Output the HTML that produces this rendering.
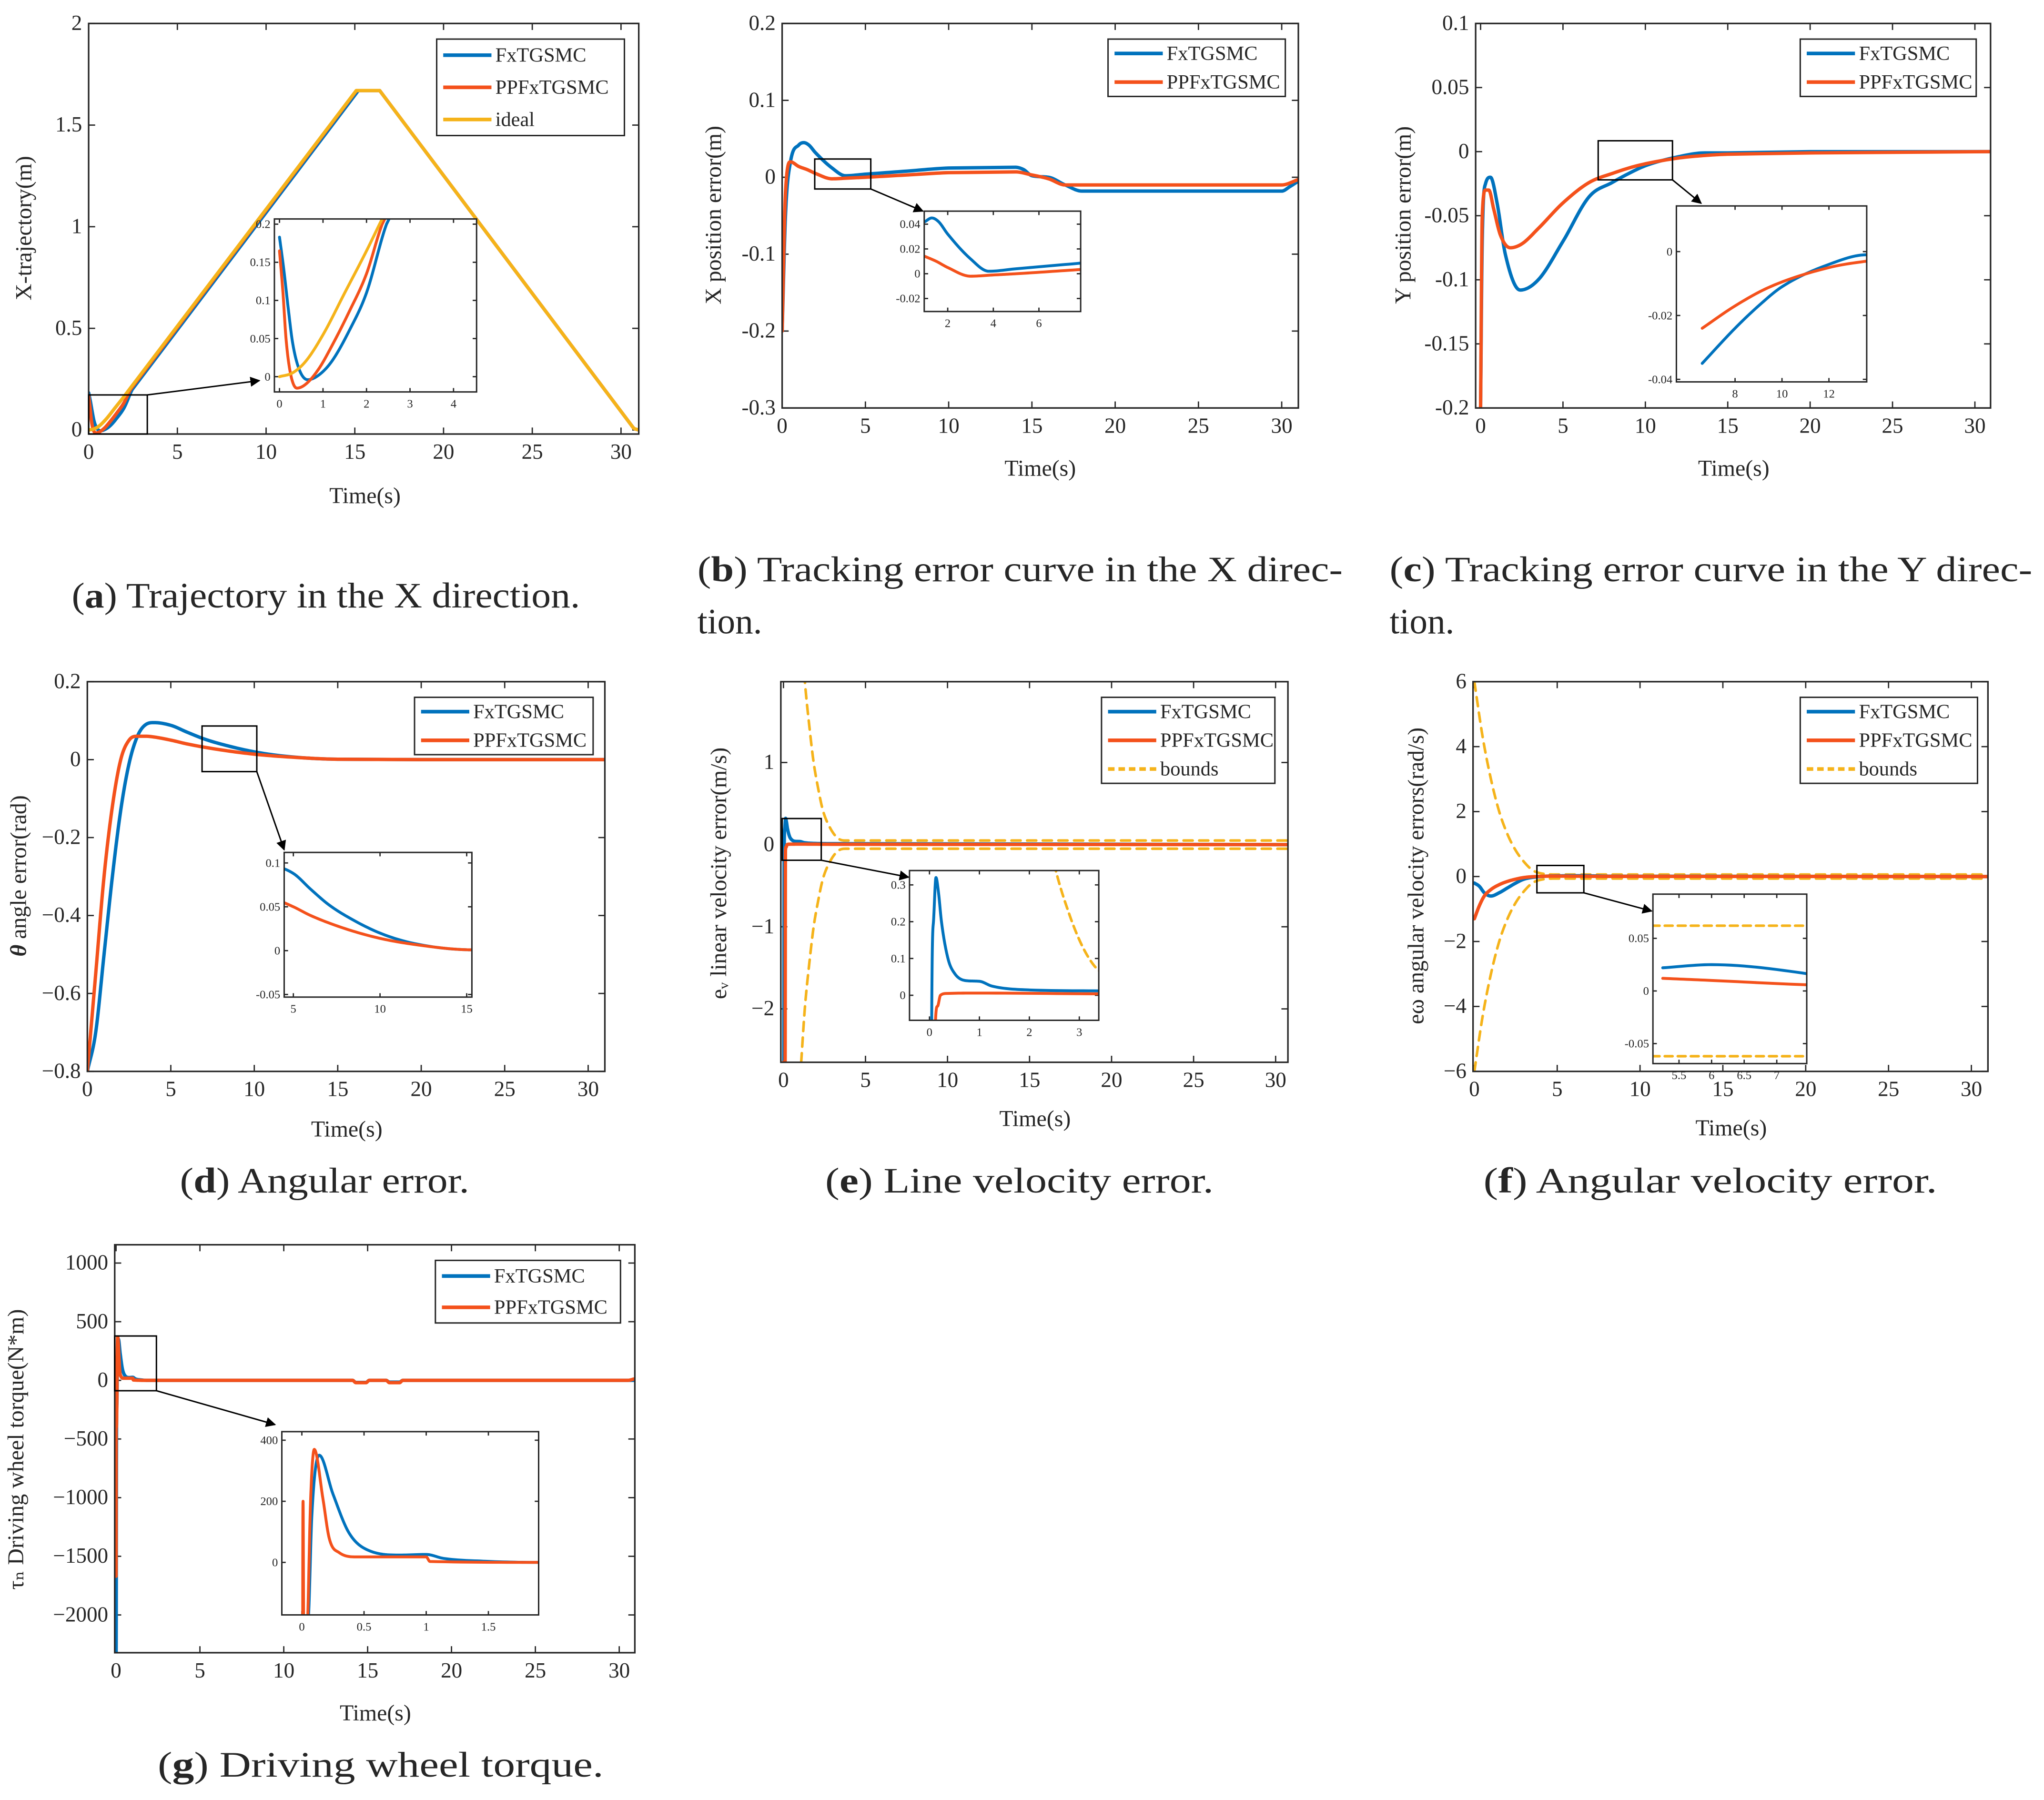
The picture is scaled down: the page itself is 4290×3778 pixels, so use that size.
<!DOCTYPE html>
<html><head><meta charset="utf-8"><title>Control results figure</title>
<style>
html,body{margin:0;padding:0;background:#fff;width:4290px;height:3778px;overflow:hidden;}
svg{display:block;}
text{font-family:"Liberation Serif","DejaVu Serif",serif;fill:#262626;}
</style></head>
<body>
<svg id="fig" xmlns="http://www.w3.org/2000/svg" width="4290" height="3778" viewBox="0 0 1568 1381" preserveAspectRatio="none">
<rect x="0" y="0" width="1568" height="1381" fill="#fff"/>
<defs>
<marker id="ah" viewBox="0 0 10 10" refX="9" refY="5" markerWidth="7" markerHeight="7" orient="auto"><path d="M0,0 L10,5 L0,10 z" fill="#000"/></marker>
</defs>
</svg>
<script>
// ---------- data ----------
// (a) trajectory
const aFxT=[0,0.1,0.2,0.3,0.45,0.65,0.9,1.2,1.6,2,2.46,15.2,16.4,30.7,31];
const aFxV=[0.183,0.14,0.09,0.045,0.01,-0.004,0.002,0.02,0.06,0.11,0.2,1.67,1.67,0.01,0];
const aPpT=[0,0.08,0.15,0.25,0.4,0.6,0.9,1.2,1.6,2,2.36,15.1,16.4,30.7,31];
const aPpV=[0.165,0.11,0.05,0.005,-0.015,-0.01,0.01,0.04,0.085,0.135,0.2,1.67,1.67,0.01,0];
const aIdT=[0,0.3,0.6,1,1.5,2,2.3,15.08,16.4,30.7,31];
const aIdV=[0,0.005,0.02,0.055,0.11,0.165,0.2,1.67,1.67,0.01,0];
// (b) X error
const bFxT=[0,0.2,0.5,1,1.3,1.6,2,3,3.8,5,7.5,10,14,14.5,15,16,17,18,30,30.5,31];
const bFxV=[-0.2,-0.05,0.02,0.042,0.045,0.042,0.032,0.012,0.002,0.004,0.008,0.012,0.013,0.01,0.002,0,-0.01,-0.018,-0.018,-0.012,-0.005];
const bPpT=[0,0.2,0.5,1,1.5,2,3,4,5,7.5,10,14,15,16,17,30,31];
const bPpV=[-0.2,-0.02,0.02,0.014,0.01,0.005,-0.002,-0.001,0,0.003,0.006,0.007,0.003,-0.002,-0.01,-0.01,-0.003];
// (c) Y error
const cFxT=[0,0.1,0.3,0.6,1,1.5,2.4,3.5,5,6.6,8,9,10,12,13.6,15,20,31];
const cFxV=[-0.2,-0.07,-0.025,-0.02,-0.04,-0.08,-0.108,-0.1,-0.07,-0.035,-0.024,-0.017,-0.011,-0.004,-0.001,-0.001,0,0];
const cPpT=[0,0.1,0.3,0.5,0.8,1.2,1.8,2.5,3.5,5,6.6,8,9.5,12,13.6,15,20,31];
const cPpV=[-0.2,-0.05,-0.03,-0.03,-0.045,-0.065,-0.075,-0.072,-0.06,-0.04,-0.024,-0.017,-0.011,-0.005,-0.003,-0.002,-0.001,0];
// (d) angle error
const dFxT=[0,0.5,1,1.5,2,2.5,3,3.5,4,5,6,7,8,10,12,15,20,31];
const dFxV=[-0.8,-0.7,-0.5,-0.3,-0.13,-0.01,0.06,0.09,0.095,0.088,0.07,0.053,0.04,0.02,0.008,0.001,0,0];
const dPpT=[0,0.5,1,1.5,2,2.5,3,3.5,4,5,6,8,10,12,15,20,31];
const dPpV=[-0.8,-0.55,-0.3,-0.12,0,0.05,0.06,0.06,0.058,0.05,0.04,0.025,0.014,0.007,0.001,0,0];
// (e) linear velocity error
const eFxT=[0,0.02,0.044,0.08,0.13,0.18,0.24,0.37,0.5,0.72,1.0,1.25,1.9,3.4,31];
const eFxV=[-2.65,-2.65,-0.07,0.2,0.32,0.28,0.2,0.1,0.06,0.04,0.038,0.025,0.015,0.012,0];
const ePpT=[0,0.1,0.12,0.16,0.22,0.35,1,3.4,31];
const ePpV=[-2.65,-2.65,-0.07,-0.03,0,0.005,0.006,0.004,0];
const eBdT=[1.08,1.3,1.6,1.84,2.1,2.4,2.8,3.3,3.8,31];
const eBdV=[2.65,2.0,1.4,1.0,0.7,0.42,0.22,0.08,0.05,0.05];
// (f) angular velocity error
const fFxT=[0,0.3,0.6,1,1.5,2,2.5,3,4,5.25,6,7.4,8,31];
const fFxV=[-0.2,-0.3,-0.5,-0.6,-0.5,-0.35,-0.2,-0.08,0.0,0.022,0.025,0.017,0.01,0];
const fPpT=[0,0.3,0.6,1,1.5,2,2.5,3,4,5.25,6,7.4,8,31];
const fPpV=[-1.3,-0.9,-0.6,-0.4,-0.25,-0.15,-0.08,-0.03,0.005,0.012,0.01,0.006,0.005,0];
const fBdT=[0,0.5,1,1.5,2,2.5,3,3.5,4,5,31];
const fBdV=[6,4.3,3.0,2.0,1.3,0.8,0.45,0.2,0.1,0.062,0.062];
// (g) torque
const gFxT=[0,0.003,0.03,0.054,0.08,0.14,0.25,0.38,0.55,0.79,1.0,1.14,1.46,1.9,14.1,14.3,14.9,15.1,16.1,16.3,16.9,17.1,30.6,30.9];
const gFxV=[-2340,-2340,-400,-172,150,351,224,96,37,24,26,13,4,0,0,-18,-18,0,0,-15,-15,0,0,0];
const gPpT=[0,0.003,0.008,0.01,0.014,0.02,0.046,0.07,0.10,0.17,0.22,0.30,0.44,1.0,1.03,1.9,14.1,14.3,14.9,15.1,16.1,16.3,16.9,17.1,30.5,30.9];
const gPpV=[-1670,-1670,150,200,-172,-400,-200,200,370,207,79,32,18,18,3,0,0,-20,-20,0,0,-20,-20,0,0,12];
// tick values / labels
const tT=[0,5,10,15,20,25,30];
const tL=['0','5','10','15','20','25','30'];
const aYT=[0,0.5,1,1.5,2]; const aYL=['0','0.5','1','1.5','2'];
const aIXT=[0,1,2,3,4]; const aIXL=['0','1','2','3','4'];
const aIYT=[0,0.05,0.1,0.15,0.2]; const aIYL=['0','0.05','0.1','0.15','0.2'];
const bYT=[-0.3,-0.2,-0.1,0,0.1,0.2]; const bYL=['-0.3','-0.2','-0.1','0','0.1','0.2'];
const bIXT=[2,4,6]; const bIXL=['2','4','6'];
const bIYT=[-0.02,0,0.02,0.04]; const bIYL=['-0.02','0','0.02','0.04'];
const cYT=[-0.2,-0.15,-0.1,-0.05,0,0.05,0.1]; const cYL=['-0.2','-0.15','-0.1','-0.05','0','0.05','0.1'];
const cIXT=[8,10,12]; const cIXL=['8','10','12'];
const cIYT=[-0.04,-0.02,0]; const cIYL=['-0.04','-0.02','0'];
const dYT=[-0.8,-0.6,-0.4,-0.2,0,0.2]; const dYL=['\u22120.8','\u22120.6','\u22120.4','\u22120.2','0','0.2'];
const dIXT=[5,10,15]; const dIXL=['5','10','15'];
const dIYT=[-0.05,0,0.05,0.1]; const dIYL=['-0.05','0','0.05','0.1'];
const eYT=[-2,-1,0,1]; const eYL=['\u22122','\u22121','0','1'];
const eIXT=[0,1,2,3]; const eIXL=['0','1','2','3'];
const eIYT=[0,0.1,0.2,0.3]; const eIYL=['0','0.1','0.2','0.3'];
const fYT=[-6,-4,-2,0,2,4,6]; const fYL=['\u22126','\u22124','\u22122','0','2','4','6'];
const fIXT=[5.5,6,6.5,7]; const fIXL=['5.5','6','6.5','7'];
const fIYT=[-0.05,0,0.05]; const fIYL=['-0.05','0','0.05'];
const gYT=[-2000,-1500,-1000,-500,0,500,1000]; const gYL=['\u22122000','\u22121500','\u22121000','\u2212500','0','500','1000'];
const gIXT=[0,0.5,1,1.5]; const gIXL=['0','0.5','1','1.5'];
const gIYT=[0,200,400]; const gIYL=['0','200','400'];

const BLUE='#0072BD', RED='#F4511B', GOLD='#F5B31A', INK='#262626';
const NS='http://www.w3.org/2000/svg';
const svg=document.getElementById('fig');
let clipN=0;
function mk(tag,parent,attrs){const e=document.createElementNS(NS,tag);for(const k in attrs)e.setAttribute(k,attrs[k]);parent.appendChild(e);return e;}
function X(p,v){return p.box[0]+(v-p.xd[0])/(p.xd[1]-p.xd[0])*(p.box[2]-p.box[0]);}
function Y(p,v){return p.box[3]-(v-p.yd[0])/(p.yd[1]-p.yd[0])*(p.box[3]-p.box[1]);}

function axes(p,g,xt,xl,yt,yl,inset){
  const [x0,y0,x1,y1]=p.box;
  const fs=inset?9:16.5, tl=inset?3:5;
  const bg=mk('rect',g,{x:x0,y:y0,width:x1-x0,height:y1-y0,fill:'#fff'});
  
  
  xt.forEach((v,i)=>{
    const x=X(p,v);
    const t1=mk('line',g,{x1:x,x2:x,y1:y1,y2:y1-tl,stroke:INK,'stroke-width':1});
    
    
    const t2=mk('line',g,{x1:x,x2:x,y1:y0,y2:y0+tl,stroke:INK,'stroke-width':1});
    
    
    const tx=mk('text',g,{x:x,y:y1+(inset?12:19),'font-size':fs,'text-anchor':'middle'});
    tx.textContent=xl[i];
    
    
  });
  yt.forEach((v,i)=>{
    const y=Y(p,v);
    const t1=mk('line',g,{x1:x0,x2:x0+tl,y1:y,y2:y,stroke:INK,'stroke-width':1});
    
    
    const t2=mk('line',g,{x1:x1,x2:x1-tl,y1:y,y2:y,stroke:INK,'stroke-width':1});
    
    
    const tx=mk('text',g,{x:x0-(inset?3:5),y:y+(inset?3:5),'font-size':fs,'text-anchor':'end'});
    tx.textContent=yl[i];
    
    
  });
  clipN++;
  const cp=mk('clipPath',svg.querySelector('defs'),{id:'cp'+clipN});
  mk('rect',cp,{x:x0,y:y0,width:x1-x0,height:y1-y0});
  const pg=mk('g',g,{'clip-path':'url(#cp'+clipN+')'});
  
  
  p.plot=pg;
  p.g=g;
}
function frame(p,inset){
  const [x0,y0,x1,y1]=p.box;
  const f=mk('rect',p.g,{x:x0,y:y0,width:x1-x0,height:y1-y0,fill:'none',stroke:INK,'stroke-width':inset?1.1:1.2});
  
  
}
// monotone cubic sampling; long segments (>3 s) are drawn straight
function smooth(T,V){
  const n=T.length; if(n<3)return T.map((t,i)=>[t,V[i]]);
  const d=[],m=new Array(n).fill(0),lin=[];
  for(let i=0;i<n-1;i++){const h=T[i+1]-T[i];d.push(h>0?(V[i+1]-V[i])/h:0);lin.push(h>3);}
  m[0]=d[0];m[n-1]=d[n-2];
  for(let i=1;i<n-1;i++){m[i]=(d[i-1]*d[i]<=0)?0:(d[i-1]+d[i])/2;}
  for(let i=0;i<n-1;i++){
    if(d[i]===0){m[i]=0;m[i+1]=0;continue;}
    const a=m[i]/d[i],b=m[i+1]/d[i],s=a*a+b*b;
    if(s>9){const tau=3/Math.sqrt(s);m[i]=tau*a*d[i];m[i+1]=tau*b*d[i];}
  }
  const out=[];
  for(let i=0;i<n-1;i++){
    const h=T[i+1]-T[i];
    if(lin[i]){out.push([T[i],V[i]]);continue;}
    const K=14;
    for(let k=0;k<K;k++){
      const s=k/K,h00=2*s*s*s-3*s*s+1,h10=s*s*s-2*s*s+s,h01=-2*s*s*s+3*s*s,h11=s*s*s-s*s;
      out.push([T[i]+s*h,h00*V[i]+h10*h*m[i]+h01*V[i+1]+h11*h*m[i+1]]);
    }
  }
  out.push([T[n-1],V[n-1]]);
  return out;
}
function series(p,T,V,color,name,opt){
  opt=opt||{};
  const tt=[],vv=[];
  for(let i=0;i<T.length;i++){
    if(opt.tmin!==undefined&&T[i]<opt.tmin)continue;
    tt.push(T[i]);vv.push(opt.neg?-V[i]:V[i]);
  }
  const pts=smooth(tt,vv).map(q=>X(p,q[0]).toFixed(2)+','+Y(p,q[1]).toFixed(2));
  const a={points:pts.join(' '),fill:'none',stroke:color,'stroke-width':opt.w||2.6,'stroke-linejoin':'round','stroke-linecap':'round'};
  if(opt.dash)a['stroke-dasharray']=opt.dash;
  const pl=mk('polyline',p.plot,a);
  
  
}
function legend(g,box,items){
  const [x0,y0,x1,y1]=box;
  const r=mk('rect',g,{x:x0,y:y0,width:x1-x0,height:y1-y0,fill:'#fff',stroke:INK,'stroke-width':1.1});
  
  
  const h=(y1-y0)/items.length;
  items.forEach((it,i)=>{
    const y=y0+h*(i+0.5);
    const a={x1:x0+5,x2:x0+42,y1:y,y2:y,stroke:it[1],'stroke-width':2.8};
    if(it[2])a['stroke-dasharray']='5,3';
    const ln=mk('line',g,a);
    
    
    const tx=mk('text',g,{x:x0+45,y:y+5,'font-size':15.5});
    tx.textContent=it[0];
    
    
  });
}
function zoomRect(g,r,to){
  const z=mk('rect',g,{x:r[0],y:r[1],width:r[2]-r[0],height:r[3]-r[1],fill:'none',stroke:'#000','stroke-width':1.1});
  
  
  const ar=mk('line',g,{x1:to[0],y1:to[1],x2:to[2],y2:to[3],stroke:'#000','stroke-width':1.1,'marker-end':'url(#ah)'});
  
  
}
function label(g,x,y,txt,rot,name){
  const t=mk('text',g,{x:x,y:y,'font-size':17.5,'text-anchor':'middle'});
  if(rot)t.setAttribute('transform','rotate(-90 '+x+' '+y+')');
  t.textContent=txt;
  
  
  return t;
}
function caption(g,x,y,letter,rest,anchor,len){
  const t=mk('text',g,{x:x,y:y,'font-size':27.5,'text-anchor':anchor});
  if(len){t.setAttribute('textLength',len);t.setAttribute('lengthAdjust','spacingAndGlyphs');}
  
  
  const s1=mk('tspan',t,{});s1.textContent='(';
  const s2=mk('tspan',t,{'font-weight':'bold'});s2.textContent=letter;
  const s3=mk('tspan',t,{});s3.textContent=')'+rest;
}
function panelG(name){const g=mk('g',svg,{});return g;}
const L2=[['FxTGSMC',BLUE],['PPFxTGSMC',RED]];
const L3b=[['FxTGSMC',BLUE],['PPFxTGSMC',RED],['bounds',GOLD,true]];

// ---------- (a) ----------
{const g=panelG('panel-a-trajectory');
 const p={box:[68,18,490,333],xd:[0,31],yd:[-0.02,2]};
 axes(p,g,tT,tL,aYT,aYL);
 series(p,aFxT,aFxV,BLUE,'line-fxtgsmc');series(p,aPpT,aPpV,RED,'line-ppfxtgsmc');series(p,aIdT,aIdV,GOLD,'line-ideal');
 frame(p);
 zoomRect(g,[68,303,113,333],[113,303,199,292]);
 const q={box:[210.5,168,365.6,300.7],xd:[-0.117,4.53],yd:[-0.02,0.2068]};
 axes(q,g,aIXT,aIXL,aIYT,aIYL,true);
 series(q,aFxT,aFxV,BLUE,'inset-fxtgsmc',{w:2.2});series(q,aPpT,aPpV,RED,'inset-ppfxtgsmc',{w:2.2});series(q,aIdT,aIdV,GOLD,'inset-ideal',{w:2.2});
 frame(q,true);
 legend(g,[335,30,479,104],[['FxTGSMC',BLUE],['PPFxTGSMC',RED],['ideal',GOLD]]);
 label(g,24,175,'X-trajectory(m)',true,'y-axis-title');label(g,280,386,'Time(s)',false,'x-axis-title');
 caption(g,55,466,'a',' Trajectory in the X direction.','start',390);}
// ---------- (b) ----------
{const g=panelG('panel-b-x-error');
 const p={box:[600,18,996,313],xd:[0,31],yd:[-0.3,0.2]};
 axes(p,g,tT,tL,bYT,bYL);
 series(p,bFxT,bFxV,BLUE,'line-fxtgsmc');series(p,bPpT,bPpV,RED,'line-ppfxtgsmc');
 frame(p);
 zoomRect(g,[625,122,668,145],[668,145,708,162]);
 const q={box:[709,162,829,239],xd:[0.97,7.83],yd:[-0.0305,0.0505]};
 axes(q,g,bIXT,bIXL,bIYT,bIYL,true);
 series(q,bFxT,bFxV,BLUE,'inset-fxtgsmc',{w:2.2,tmin:1});series(q,bPpT,bPpV,RED,'inset-ppfxtgsmc',{w:2.2,tmin:1});
 frame(q,true);
 legend(g,[850,30,986,74],L2);
 label(g,553,165,'X position error(m)',true,'y-axis-title');label(g,798,365,'Time(s)',false,'x-axis-title');
 caption(g,535,446,'b',' Tracking error curve in the X direc-','start',495);
 const t2=mk('text',g,{x:535,y:486,'font-size':27.5});t2.textContent='tion.';
 
 }
// ---------- (c) ----------
{const g=panelG('panel-c-y-error');
 const p={box:[1132,18,1527,313],xd:[-0.3,30.95],yd:[-0.2,0.1]};
 axes(p,g,tT,tL,cYT,cYL);
 series(p,cFxT,cFxV,BLUE,'line-fxtgsmc');series(p,cPpT,cPpV,RED,'line-ppfxtgsmc');
 frame(p);
 zoomRect(g,[1226,108,1283,138],[1283,138,1305,156]);
 const q={box:[1286,158,1432,293],xd:[5.5,13.61],yd:[-0.0408,0.0143]};
 axes(q,g,cIXT,cIXL,cIYT,cIYL,true);
 series(q,cFxT,cFxV,BLUE,'inset-fxtgsmc',{w:2.2,tmin:6.6});series(q,cPpT,cPpV,RED,'inset-ppfxtgsmc',{w:2.2,tmin:6.6});
 frame(q,true);
 legend(g,[1381,30,1516,74],L2);
 label(g,1082,165,'Y position error(m)',true,'y-axis-title');label(g,1330,365,'Time(s)',false,'x-axis-title');
 caption(g,1066,446,'c',' Tracking error curve in the Y direc-','start',493);
 const t2=mk('text',g,{x:1066,y:486,'font-size':27.5});t2.textContent='tion.';
 
 }
// ---------- (d) ----------
{const g=panelG('panel-d-angle-error');
 const p={box:[67,523,464,822],xd:[0,31],yd:[-0.8,0.2]};
 axes(p,g,tT,tL,dYT,dYL);
 series(p,dFxT,dFxV,BLUE,'line-fxtgsmc');series(p,dPpT,dPpV,RED,'line-ppfxtgsmc');
 frame(p);
 zoomRect(g,[155,557,197,592],[197,592,218,652]);
 const q={box:[218,654,362,765],xd:[4.47,15.3],yd:[-0.053,0.112]};
 axes(q,g,dIXT,dIXL,dIYT,dIYL,true);
 series(q,dFxT,dFxV,BLUE,'inset-fxtgsmc',{w:2.2});series(q,dPpT,dPpV,RED,'inset-ppfxtgsmc',{w:2.2});
 frame(q,true);
 legend(g,[318,535,455,579],L2);
 const yl=label(g,20,672,'',true,'y-axis-title');
 const th=mk('tspan',yl,{'font-style':'italic','font-weight':'bold'});th.textContent='\u03B8';
 const rs=mk('tspan',yl,{});rs.textContent=' angle error(rad)';
 label(g,266,872,'Time(s)',false,'x-axis-title');
 caption(g,138,915,'d',' Angular error.','start',222);}
// ---------- (e) ----------
{const g=panelG('panel-e-linear-velocity-error');
 const p={box:[599,523,988,815],xd:[-0.16,30.75],yd:[-2.65,1.984]};
 axes(p,g,tT,tL,eYT,eYL);
 series(p,eBdT,eBdV,GOLD,'bound-upper',{dash:'7,5',w:2});series(p,eBdT,eBdV,GOLD,'bound-lower',{dash:'7,5',w:2,neg:true});
 series(p,eFxT,eFxV,BLUE,'line-fxtgsmc');series(p,ePpT,ePpV,RED,'line-ppfxtgsmc');
 frame(p);
 zoomRect(g,[600,628,630,660],[630,660,697,673]);
 const q={box:[697.7,667.9,842.9,782.8],xd:[-0.4,3.39],yd:[-0.068,0.339]};
 axes(q,g,eIXT,eIXL,eIYT,eIYL,true);
 series(q,eBdT,eBdV,GOLD,'inset-bound-upper',{dash:'6,4',w:2});series(q,eBdT,eBdV,GOLD,'inset-bound-lower',{dash:'6,4',w:2,neg:true});
 series(q,eFxT,eFxV,BLUE,'inset-fxtgsmc',{w:2.2});series(q,ePpT,ePpV,RED,'inset-ppfxtgsmc',{w:2.2});
 frame(q,true);
 legend(g,[845,535,978,601],L3b);
 label(g,557,670,'e\u1d65 linear velocity error(m/s)',true,'y-axis-title');
 label(g,794,864,'Time(s)',false,'x-axis-title');
 caption(g,633,915,'e',' Line velocity error.','start',298);}
// ---------- (f) ----------
{const g=panelG('panel-f-angular-velocity-error');
 const p={box:[1130,523,1525,822],xd:[-0.08,31.0],yd:[-6,6]};
 axes(p,g,tT,tL,fYT,fYL);
 series(p,fBdT,fBdV,GOLD,'bound-upper',{dash:'7,5',w:2});series(p,fBdT,fBdV,GOLD,'bound-lower',{dash:'7,5',w:2,neg:true});
 series(p,fFxT,fFxV,BLUE,'line-fxtgsmc');series(p,fPpT,fPpV,RED,'line-ppfxtgsmc');
 frame(p);
 zoomRect(g,[1179,664,1215,685],[1215,685,1267,699]);
 const q={box:[1268,686,1386,816],xd:[5.1,7.46],yd:[-0.069,0.092]};
 axes(q,g,fIXT,fIXL,fIYT,fIYL,true);
 series(q,fBdT,fBdV,GOLD,'inset-bound-upper',{dash:'6,4',w:2});series(q,fBdT,fBdV,GOLD,'inset-bound-lower',{dash:'6,4',w:2,neg:true});
 series(q,fFxT,fFxV,BLUE,'inset-fxtgsmc',{w:2.2,tmin:5.25});series(q,fPpT,fPpV,RED,'inset-ppfxtgsmc',{w:2.2,tmin:5.25});
 frame(q,true);
 legend(g,[1381,535,1517,601],L3b);
 label(g,1092,672,'e\u03C9 angular velocity errors(rad/s)',true,'y-axis-title');
 label(g,1328,871,'Time(s)',false,'x-axis-title');
 caption(g,1138,915,'f',' Angular velocity error.','start',348);}
// ---------- (g) ----------
{const g=panelG('panel-g-torque');
 const p={box:[88,955,487,1268],xd:[-0.08,30.93],yd:[-2322,1156]};
 axes(p,g,tT,tL,gYT,gYL);
 series(p,gFxT,gFxV,BLUE,'line-fxtgsmc');series(p,gPpT,gPpV,RED,'line-ppfxtgsmc');
 frame(p);
 zoomRect(g,[88,1025,120,1067],[120,1067,211,1093]);
 const q={box:[216.2,1098.4,413.2,1239],xd:[-0.161,1.904],yd:[-172,428]};
 axes(q,g,gIXT,gIXL,gIYT,gIYL,true);
 series(q,gFxT,gFxV,BLUE,'inset-fxtgsmc',{w:2.2});series(q,gPpT,gPpV,RED,'inset-ppfxtgsmc',{w:2.2});
 frame(q,true);
 legend(g,[334,967,476,1015],L2);
 label(g,18,1112,'\u03C4\u2099 Driving wheel torque(N*m)',true,'y-axis-title');
 label(g,288,1320,'Time(s)',false,'x-axis-title');
 caption(g,121,1363,'g',' Driving wheel torque.','start',342);}
</script>
</body></html>
